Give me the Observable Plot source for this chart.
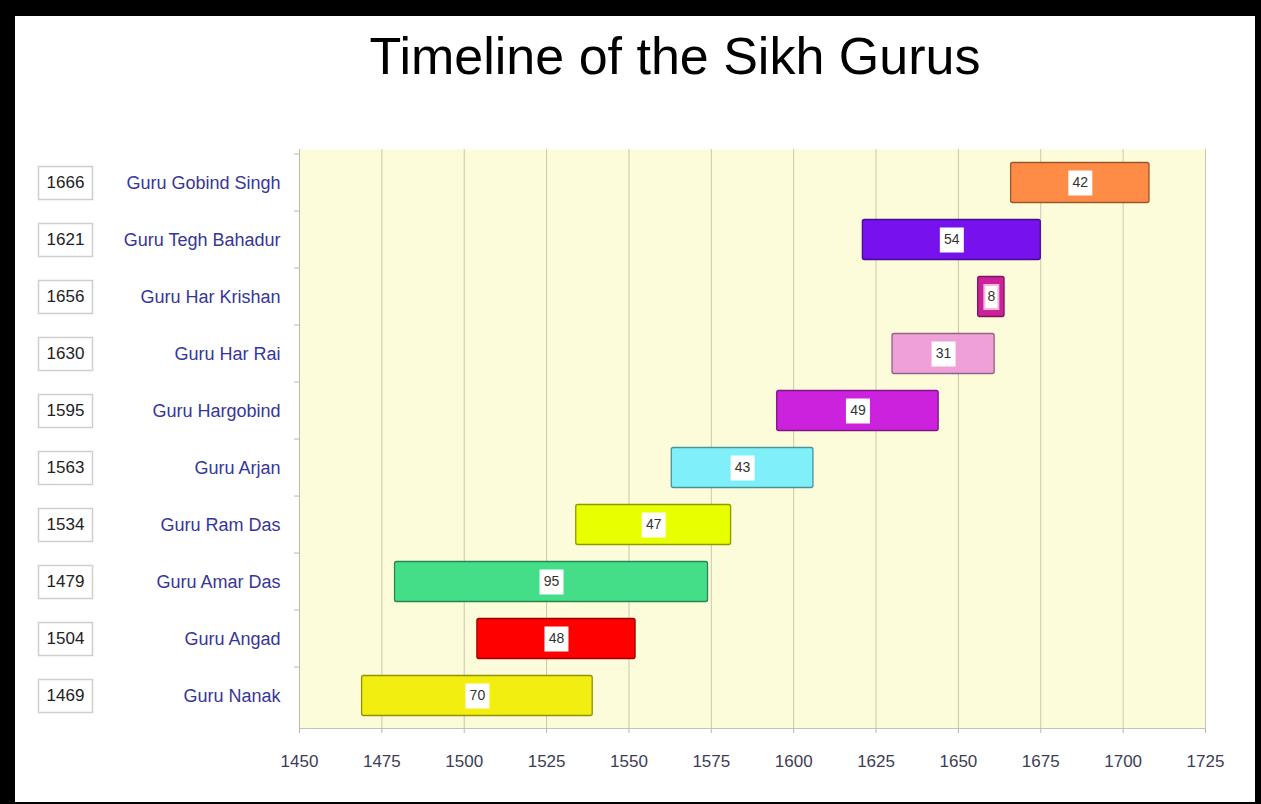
<!DOCTYPE html>
<html><head><meta charset="utf-8">
<script src="https://cdn.jsdelivr.net/npm/d3@7"></script>
<script src="https://cdn.jsdelivr.net/npm/@observablehq/plot@0.6"></script>
<style>
html,body{margin:0;padding:0;background:#000;width:1261px;height:804px;overflow:hidden;}
#card{position:absolute;left:15px;top:16px;width:1240px;height:786px;background:#fff;overflow:hidden;font-family:"Liberation Sans",Arial,sans-serif;}
#title{position:absolute;left:0;top:14px;width:1240px;text-align:center;padding-left:80px;box-sizing:border-box;font-size:52px;color:#000;line-height:1;}
#chart{position:absolute;left:0;top:100px;}
</style></head>
<body><div id="card"><div id="title">Timeline of the Sikh Gurus</div><div id="chart"></div></div>
<script>
const gurus = ["Guru Gobind Singh","Guru Tegh Bahadur","Guru Har Krishan","Guru Har Rai","Guru Hargobind","Guru Arjan","Guru Ram Das","Guru Amar Das","Guru Angad","Guru Nanak"];
const startYears = [1666,1621,1656,1630,1595,1563,1534,1479,1504,1469];
const tenureYears = [42,54,8,31,49,43,47,95,48,70];
const barColors = ["#ff8c46","#7711ee","#cc2299","#f0a0d8","#cc22dd","#7ff0fa","#e8ff00","#44dd88","#ff0000","#f2ee10"];
const xTicks = [1450,1475,1500,1525,1550,1575,1600,1625,1650,1675,1700,1725];

const data = gurus.map((name, i) => ({
  name, start: startYears[i], years: tenureYears[i],
  end: startYears[i] + tenureYears[i], color: barColors[i]
}));
const mid = d => (d.start + d.end) / 2;
const rectSymbol = (w, h) => ({draw(ctx) { ctx.rect(-w / 2, -h / 2, w, h); }});

const H = 680, MT = 33, MB = 68;
const step = (H - MT - MB) / gurus.length;

const chart = Plot.plot({
  width: 1240, height: H,
  marginLeft: 284, marginRight: 50, marginTop: MT, marginBottom: MB,
  style: {background: "transparent", fontFamily: "'Liberation Sans', Arial, sans-serif", overflow: "visible"},
  x: {domain: [1450, 1725], ticks: xTicks, label: null},
  y: {domain: gurus, padding: 0, label: null},
  marks: [
    Plot.frame({fill: "#fcfcda", stroke: null}),
    Plot.gridX(xTicks, {stroke: "#c8c8ae", strokeOpacity: 1}),
    Plot.frame({anchor: "bottom", stroke: "#c4c4b4"}),
    Plot.frame({anchor: "left", stroke: "#bcbcaa"}),
    Plot.axisX({ticks: xTicks, tickFormat: d => String(d), tickSize: 5, tickPadding: 21, fontSize: 17, fill: "#3d3d55", stroke: "#b8b8a8", label: null}),
    Plot.axisY({tickSize: 5, tickFormat: () => "", dy: -step / 2, stroke: "#b8b8a8", label: null}),
    Plot.axisY({tickSize: 0, tickPadding: 19, fontSize: 18, fill: "#36369a", label: null}),
    Plot.barX(data, {
      x1: "start", x2: "end", y: "name", fill: "color",
      stroke: d => d3.color(d.color).darker(1.4).formatHex(), strokeWidth: 1.3,
      insetTop: 8.5, insetBottom: 8.5, rx: 2
    }),
    Plot.dot(data.filter(d => d.years >= 10), {x: mid, y: "name", symbol: rectSymbol(24, 25), r: 10, fill: "white", stroke: "none"}),
    Plot.dot(data.filter(d => d.years < 10), {x: mid, y: "name", symbol: rectSymbol(14, 24), r: 10, fill: "white", stroke: "#f2b8dc", strokeWidth: 2}),
    Plot.text(data, {x: mid, y: "name", text: d => String(d.years), fontSize: 14, fill: "#333"}),
    Plot.dot(data, {y: "name", frameAnchor: "left", dx: -234, symbol: rectSymbol(54, 33), r: 10, fill: "white", stroke: "#cfcfcf"}),
    Plot.text(data, {y: "name", frameAnchor: "left", dx: -234, textAnchor: "middle", text: d => String(d.start), fontSize: 17, fill: "#222"})
  ]
});
document.getElementById("chart").appendChild(chart);
</script>
</body></html>
